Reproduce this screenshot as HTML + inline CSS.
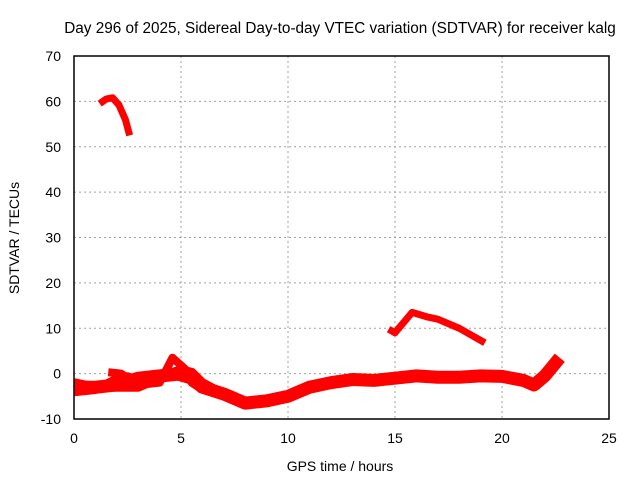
<!DOCTYPE html>
<html><head><meta charset="utf-8"><style>
body{margin:0;background:#fff}
svg text{font-family:"Liberation Sans",sans-serif;font-size:14px;fill:#000}
</style></head><body>
<svg width="640" height="480" id="c">
<text x="340" y="33" text-anchor="middle" style="font-size:15.3px">Day 296 of 2025, Sidereal Day-to-day VTEC variation (SDTVAR) for receiver kalg</text>
<text x="340" y="471" text-anchor="middle">GPS time / hours</text>
<text transform="translate(19,238) rotate(-90)" text-anchor="middle">SDTVAR / TECUs</text>
<g id="grid"></g><g id="ticks"></g><g id="series"></g>
<rect x="74" y="56" width="535" height="363" fill="none" stroke="#000" stroke-width="1.5"/>
</svg>
<script>
const xTicks=[0,5,10,15,20,25];
const yTicks=[-10,0,10,20,30,40,50,60,70];
const seriesA=[[1.2,59.5],[1.5,60.5],[1.8,60.8],[2.1,59.2],[2.4,56],[2.6,52.5]];
const seriesB=[[14.7,9.8],[15,9],[15.8,13.5],[16.5,12.5],[17,12],[18,10],[19.2,6.8]];
const seriesC=[[0,-3],[1,-3],[2,-2.5],[3,-1],[4,-0.5],[4.8,0],[5.5,-1],[6,-3],[7,-4.5],[8,-6.5],[9,-6],[10,-5],[11,-3],[12,-2],[13,-1.3],[14,-1.5],[15,-1],[16,-0.5],[17,-0.8],[18,-0.8],[19,-0.5],[20,-0.6],[21,-1.5],[21.5,-2.5],[22,-0.5],[22.7,3.5]];
const seriesD=[[0,-4],[1,-3.5],[2,-1.2],[2.5,-0.7],[3,-1.5],[4,-0.5],[5,0.8],[5.5,0.3],[6,-2],[7,-4.5]];
const seriesE=[[1.6,0.3],[2.2,0],[3,-2.5],[4,-2],[4.6,3.5],[5.2,1],[5.5,-2],[6,-3.5]];
const seriesF=[[0,-2],[1,-3],[2,-3],[3,-3],[4,-1],[5,-0.5]];
const allSeries=[seriesA,seriesB,seriesC,seriesD,seriesE,seriesF];
const widths=[7,7,13,9,8,9];
const X=v=>74+v*535/25, Y=v=>419-(v+10)*363/80;
const NS="http://www.w3.org/2000/svg";
const grid=document.getElementById('grid'),ticks=document.getElementById('ticks'),ser=document.getElementById('series');
function mk(t,a){const e=document.createElementNS(NS,t);for(const k in a)e.setAttribute(k,a[k]);return e;}
xTicks.forEach(t=>{
 if(t>0&&t<25){const g=mk('line',{x1:X(t),x2:X(t),y1:56,y2:419,stroke:'#a0a0a0','stroke-dasharray':'2,3'});
 
 grid.appendChild(g);}
 const l=mk('text',{x:X(t),y:443,'text-anchor':'middle'});l.textContent=t;
 
 ticks.appendChild(l);
});
yTicks.forEach(t=>{
 if(t>-10&&t<70){const g=mk('line',{x1:74,x2:609,y1:Y(t),y2:Y(t),stroke:'#a0a0a0','stroke-dasharray':'2,3'});
 
 grid.appendChild(g);}
 const l=mk('text',{x:61,y:Y(t)+5,'text-anchor':'end'});l.textContent=t;
 
 ticks.appendChild(l);
});
allSeries.forEach((s,i)=>{
 const p=mk('polyline',{points:s.map(d=>X(d[0])+','+Y(d[1])).join(' '),fill:'none',stroke:'#ff0000','stroke-width':widths[i],'stroke-linejoin':'round'});
 
 
 ser.appendChild(p);
});
</script>
</body></html>
